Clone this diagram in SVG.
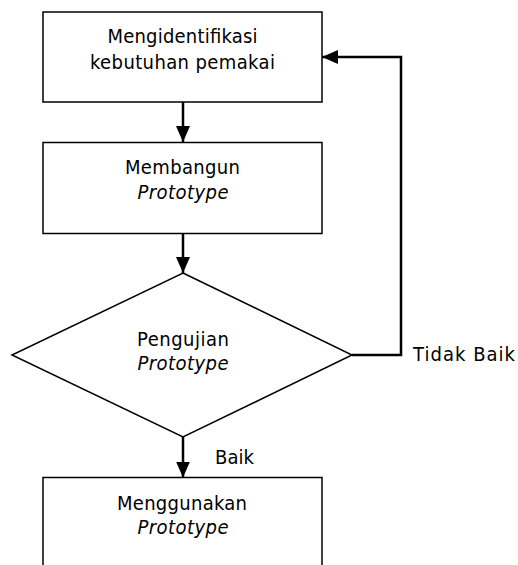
<svg xmlns="http://www.w3.org/2000/svg" width="518" height="565" viewBox="0 0 518 565">
<style>
.box{fill:#fff;stroke:#000;stroke-width:1.5}
.con{fill:none;stroke:#000;stroke-width:2.5}
text{font-family:"DejaVu Sans Condensed","DejaVu Sans",sans-serif;font-size:20px;fill:#000}
.c{text-anchor:middle}
.i{font-style:italic}
</style>
<defs>
<marker id="ah" viewBox="0 0 16 14" refX="16" refY="7" markerWidth="16" markerHeight="14" markerUnits="userSpaceOnUse" orient="auto">
<path d="M0,0 L16,7 L0,14 Z" fill="#000"/>
</marker>
</defs>
<g id="connectors">
<line class="con" x1="183" y1="102" x2="183" y2="142" marker-end="url(#ah)"/>
<line class="con" x1="183" y1="233" x2="183" y2="273" marker-end="url(#ah)"/>
<line class="con" x1="183" y1="437" x2="183" y2="477.5" marker-end="url(#ah)"/>
<polyline class="con" points="352,355 401,355 401,57 322,57" marker-end="url(#ah)"/>
<text x="413" y="361" textLength="102" lengthAdjust="spacing">Tidak Baik</text>
<text x="215" y="464" textLength="39" lengthAdjust="spacing">Baik</text>
</g>
<g id="n1">
<rect class="box" x="43" y="12" width="279" height="90"/>
<text class="c" x="182.5" y="43" textLength="150" lengthAdjust="spacing">Mengidentifikasi</text>
<text class="c" x="182.5" y="69" textLength="185" lengthAdjust="spacing">kebutuhan pemakai</text>
</g>
<g id="n2">
<rect class="box" x="43" y="142.5" width="279" height="91"/>
<text class="c" x="182.5" y="174" textLength="115" lengthAdjust="spacing">Membangun</text>
<text class="c i" x="183" y="199" textLength="91" lengthAdjust="spacing">Prototype</text>
</g>
<g id="n3">
<polygon class="box" points="183,273 352,355 183,437 12,355"/>
<text class="c" x="183" y="346" textLength="92" lengthAdjust="spacing">Pengujian</text>
<text class="c i" x="183" y="370" textLength="91" lengthAdjust="spacing">Prototype</text>
</g>
<g id="n4">
<rect class="box" x="43" y="477.5" width="279" height="100"/>
<text class="c" x="182" y="510" textLength="130" lengthAdjust="spacing">Menggunakan</text>
<text class="c i" x="183" y="534" textLength="91" lengthAdjust="spacing">Prototype</text>
</g>
</svg>
